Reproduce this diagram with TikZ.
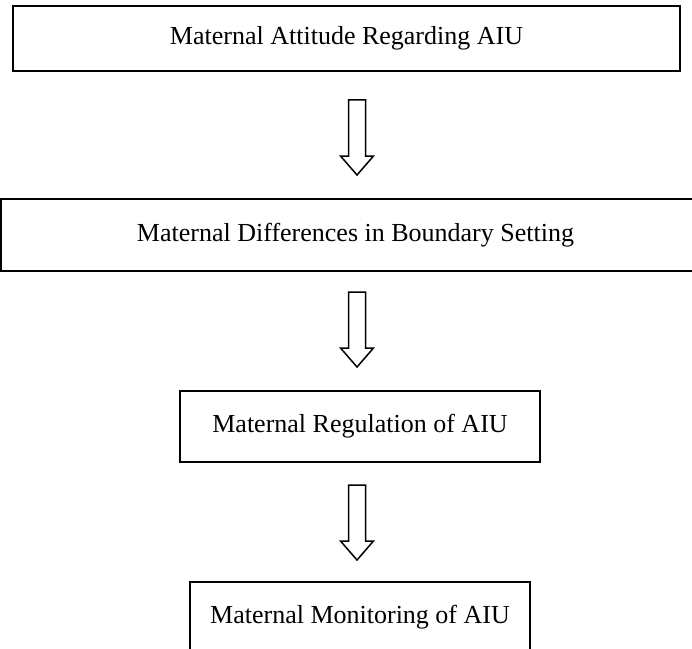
\documentclass[tikz,border=0pt]{standalone}
\usepackage{fontspec}
\setmainfont{Liberation Serif}
\usetikzlibrary{positioning}

\begin{document}
\begin{tikzpicture}[x=1bp, y=-1bp, every node/.style={draw, line width=1.5bp, inner sep=0pt, font=\fontsize{26bp}{30bp}\selectfont}, downarrow/.pic={\draw[line width=1.5bp, line join=miter] (-8.5,0) -- (8.5,0) -- (8.5,56) -- (16.5,56) -- (0,75) -- (-16.5,56) -- (-8.5,56) -- cycle;}]
  \useasboundingbox (0,0) rectangle (692,649);
  \node[minimum width=667bp, minimum height=65bp] (attitude) at (346.5,38.5) {Maternal Attitude Regarding AIU};
  \node[minimum width=709bp, minimum height=72bp] (boundary) at (355.5,235) {Maternal Differences in Boundary Setting};
  \node[minimum width=360bp, minimum height=71bp] (regulation) at (360,426.5) {Maternal Regulation of AIU};
  \node[minimum width=340bp, minimum height=70bp] (monitoring) at (360,617) {Maternal Monitoring of AIU};
  \pic (arrowA) at (357,100) {downarrow};
  \pic (arrowB) at (357,292) {downarrow};
  \pic (arrowC) at (357,485) {downarrow};
\end{tikzpicture}
\end{document}
